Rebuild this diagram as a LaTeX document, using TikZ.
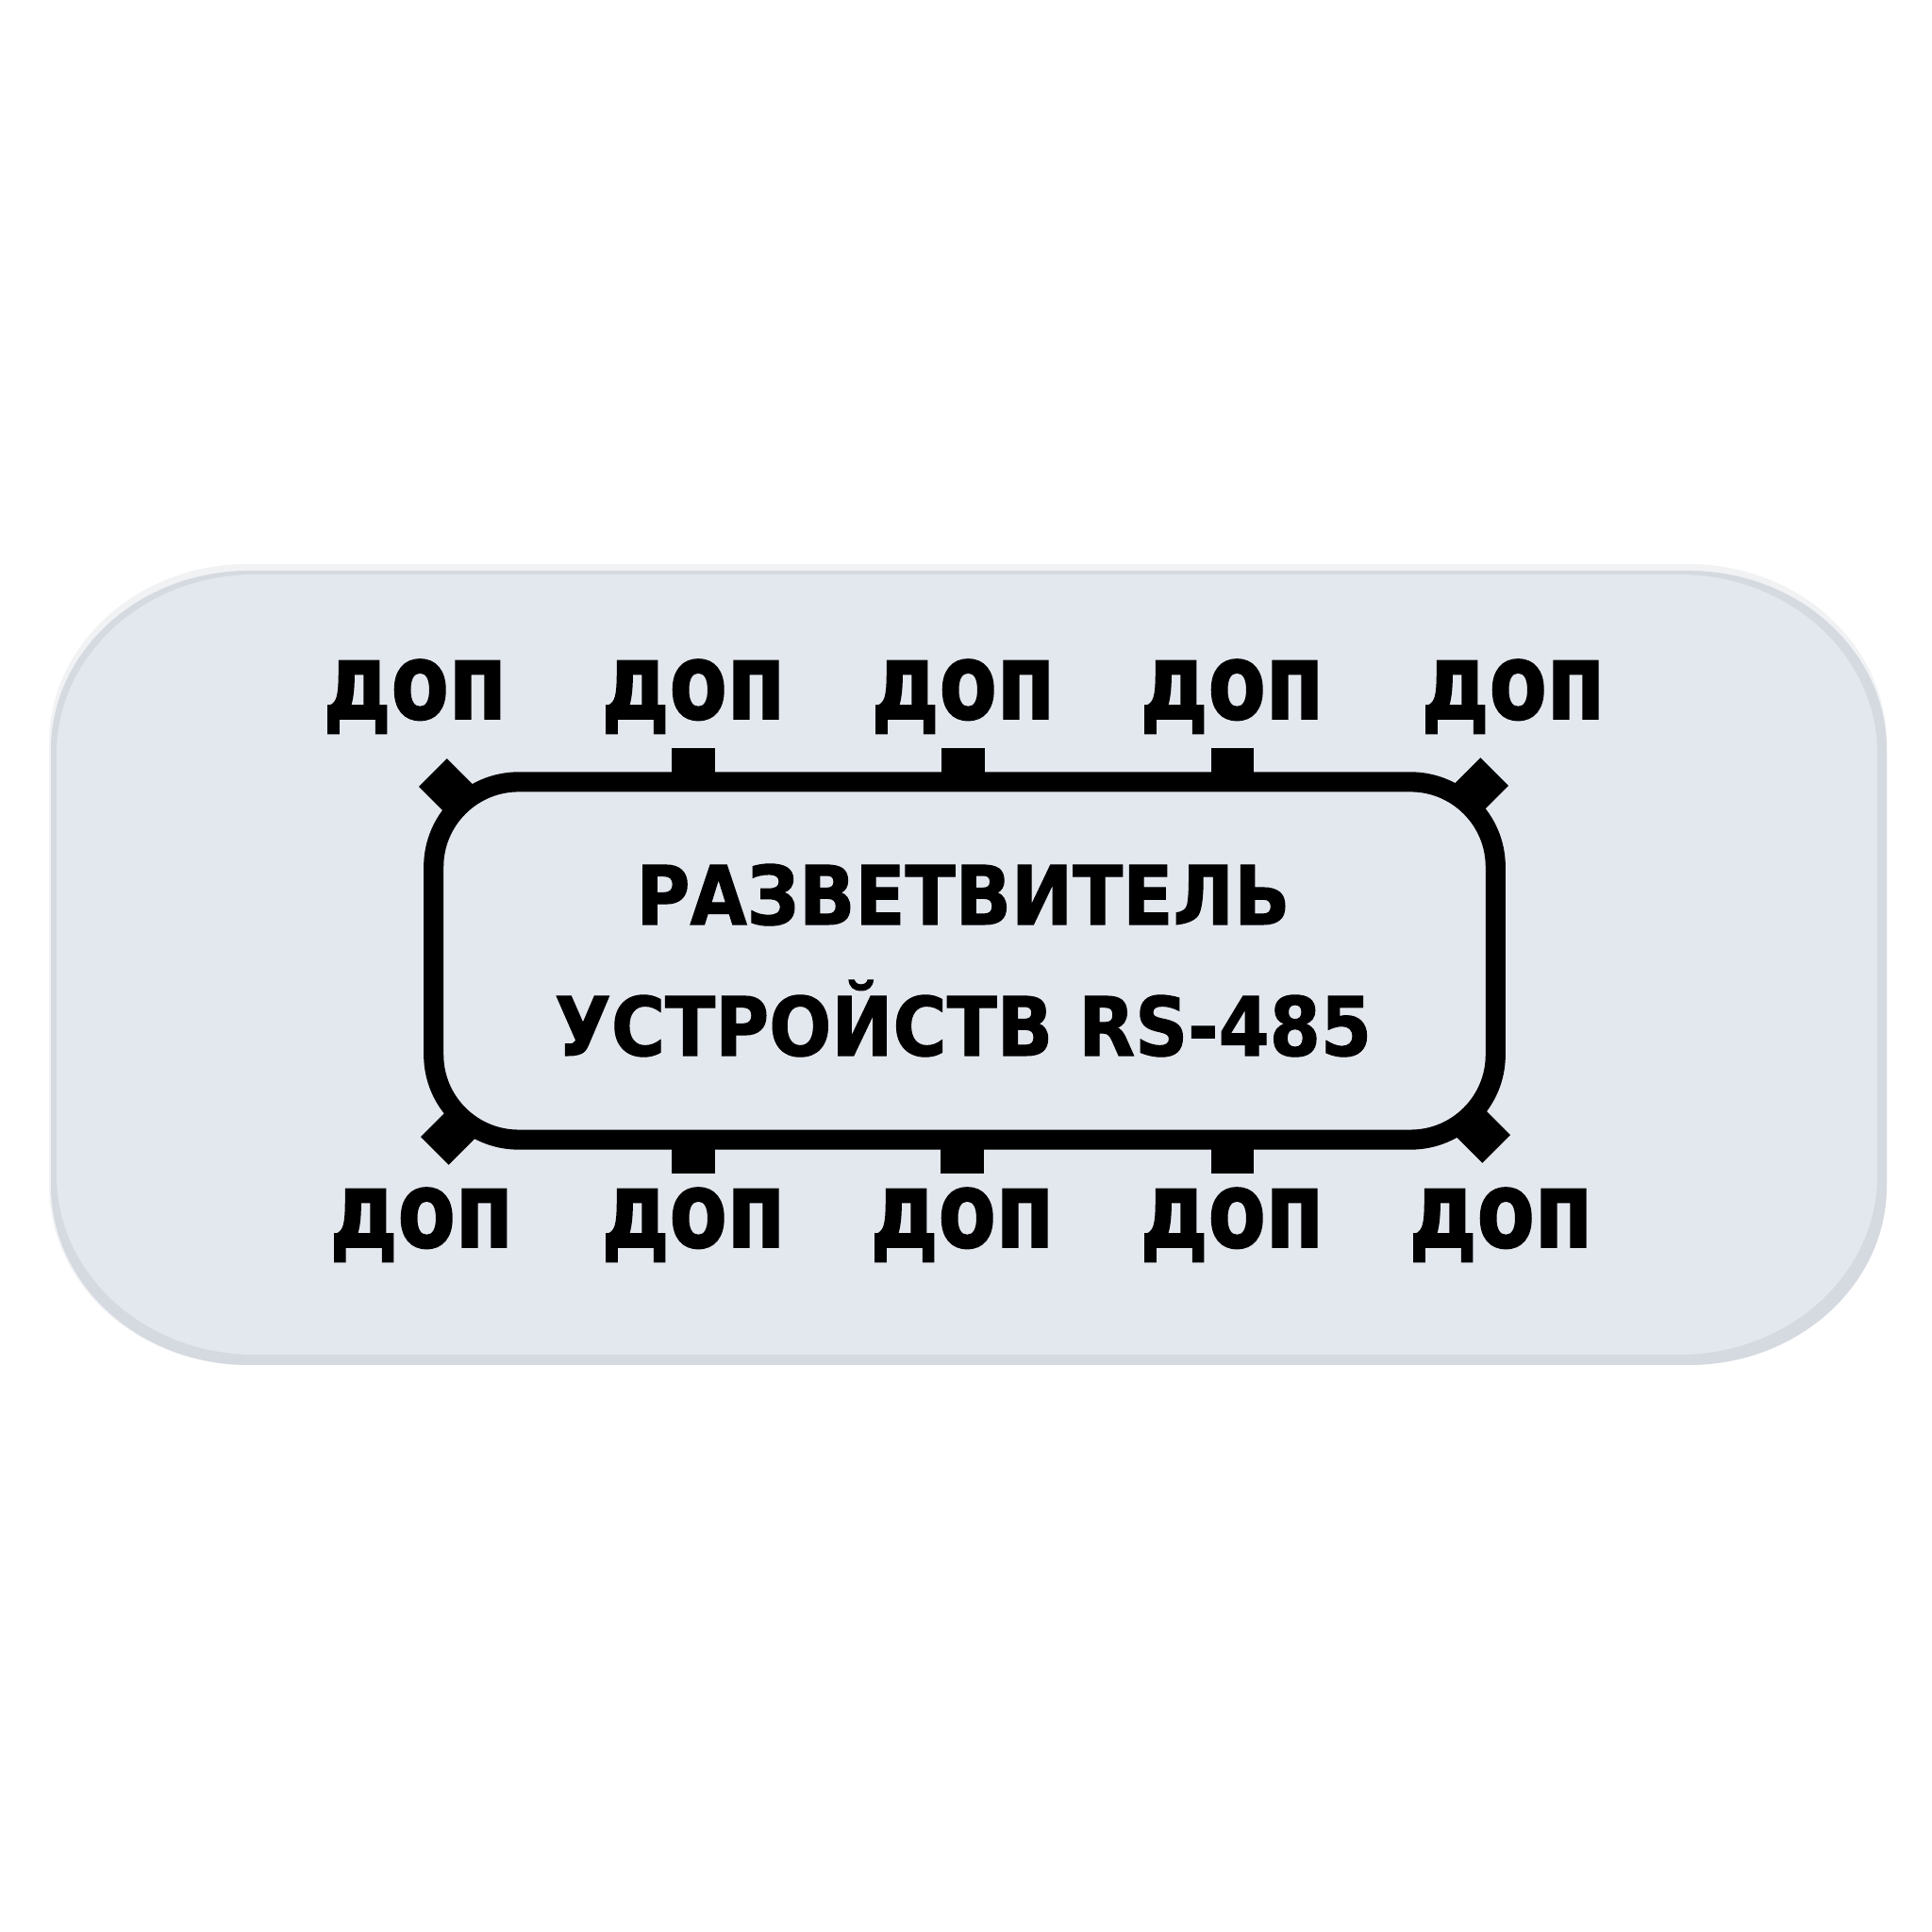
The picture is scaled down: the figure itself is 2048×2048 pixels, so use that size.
\documentclass[tikz,border=0pt]{standalone}
\usepackage{fontspec}
\newfontfamily\titlefont{DejaVu Sans Bold}[FakeStretch=0.9, FakeBold=1.2]
\newfontfamily\portfont{DejaVu Sans Bold}[FakeStretch=0.79, FakeBold=1.4]
\usetikzlibrary{calc,positioning}

\definecolor{platelight}{HTML}{F1F2F4}
\definecolor{plateedge}{HTML}{D5D9E0}
\definecolor{platefill}{HTML}{E3E7EE}

% plate with elliptic corners: colour, left, bottom, right, top
\newcommand{\plate}[5]{%
  \fill[#1] ({#2+210},#5) -- ({#4-210},#5)
    arc[start angle=90,end angle=0,x radius=210,y radius=190]
    -- (#4,{#3+190}) arc[start angle=0,end angle=-90,x radius=210,y radius=190]
    -- ({#2+210},#3) arc[start angle=270,end angle=180,x radius=210,y radius=190]
    -- (#2,{#5-190}) arc[start angle=180,end angle=90,x radius=210,y radius=190]
    -- cycle;}

\tikzset{
  body/.style={draw=black, line width=6pt, rounded corners=0.9cm,
    minimum width=11.25cm, minimum height=3.79cm, inner sep=0pt, outer sep=0pt},
  pin/.style={fill=black, minimum width=0.45cm, minimum height=0.36cm,
    inner sep=0pt, outer sep=0pt},
  cornerpin/.style={fill=black, rotate=45, minimum size=0.42cm,
    inner sep=0pt, outer sep=0pt},
  portlabel/.style={font=\portfont\fontsize{32}{32}\selectfont,
    inner sep=0pt, anchor=base},
  titletext/.style={font=\titlefont\fontsize{24.6}{24.6}\selectfont,
    inner sep=0pt, anchor=base},
}

\begin{document}
\begin{tikzpicture}[x=0.01cm,y=0.01cm]
  \fill[white] (0,0) rectangle (2048,2048);
  \useasboundingbox (0,0) rectangle (2048,2048);
  % plate
  \plate{platelight}{52}{601}{2000}{1450}
  \plate{plateedge}{54}{601}{2000}{1443}
  \plate{platefill}{60}{612}{1990}{1439}
  % body
  \node[body] (body) at (1022.5,1029.5) {};
  \node[titletext] (title1) at (1021,1068) {РАЗВЕТВИТЕЛЬ};
  \node[titletext] (title2) at (1021,929) {УСТРОЙСТВ RS-485};
  % labels
  \node[portlabel] (top1) at (440,1286) {доп};
  \node[portlabel] (top2) at (735,1286) {доп};
  \node[portlabel] (top3) at (1021,1286) {доп};
  \node[portlabel] (top4) at (1306,1286) {доп};
  \node[portlabel] (top5) at (1604,1286) {доп};
  \node[portlabel] (bot1) at (447,726) {доп};
  \node[portlabel] (bot2) at (735,726) {доп};
  \node[portlabel] (bot3) at (1020,726) {доп};
  \node[portlabel] (bot4) at (1306,726) {доп};
  \node[portlabel] (bot5) at (1591,726) {доп};
  % pins
  \foreach \i in {2,3,4} {
    \node[pin, anchor=south] (pin-t\i) at (top\i |- body.north) {};
    \node[pin, anchor=north] (pin-b\i) at (bot\i |- body.south) {};
  }
  \node[cornerpin] (pin-t1) at ($(body.north west)+(14,-5)$) {};
  \node[cornerpin] (pin-t5) at ($(body.north east)+(-16,-4)$) {};
  \node[cornerpin] (pin-b1) at ($(body.south west)+(16,3)$) {};
  \node[cornerpin] (pin-b5) at ($(body.south east)+(-14,5)$) {};
\end{tikzpicture}
\end{document}
